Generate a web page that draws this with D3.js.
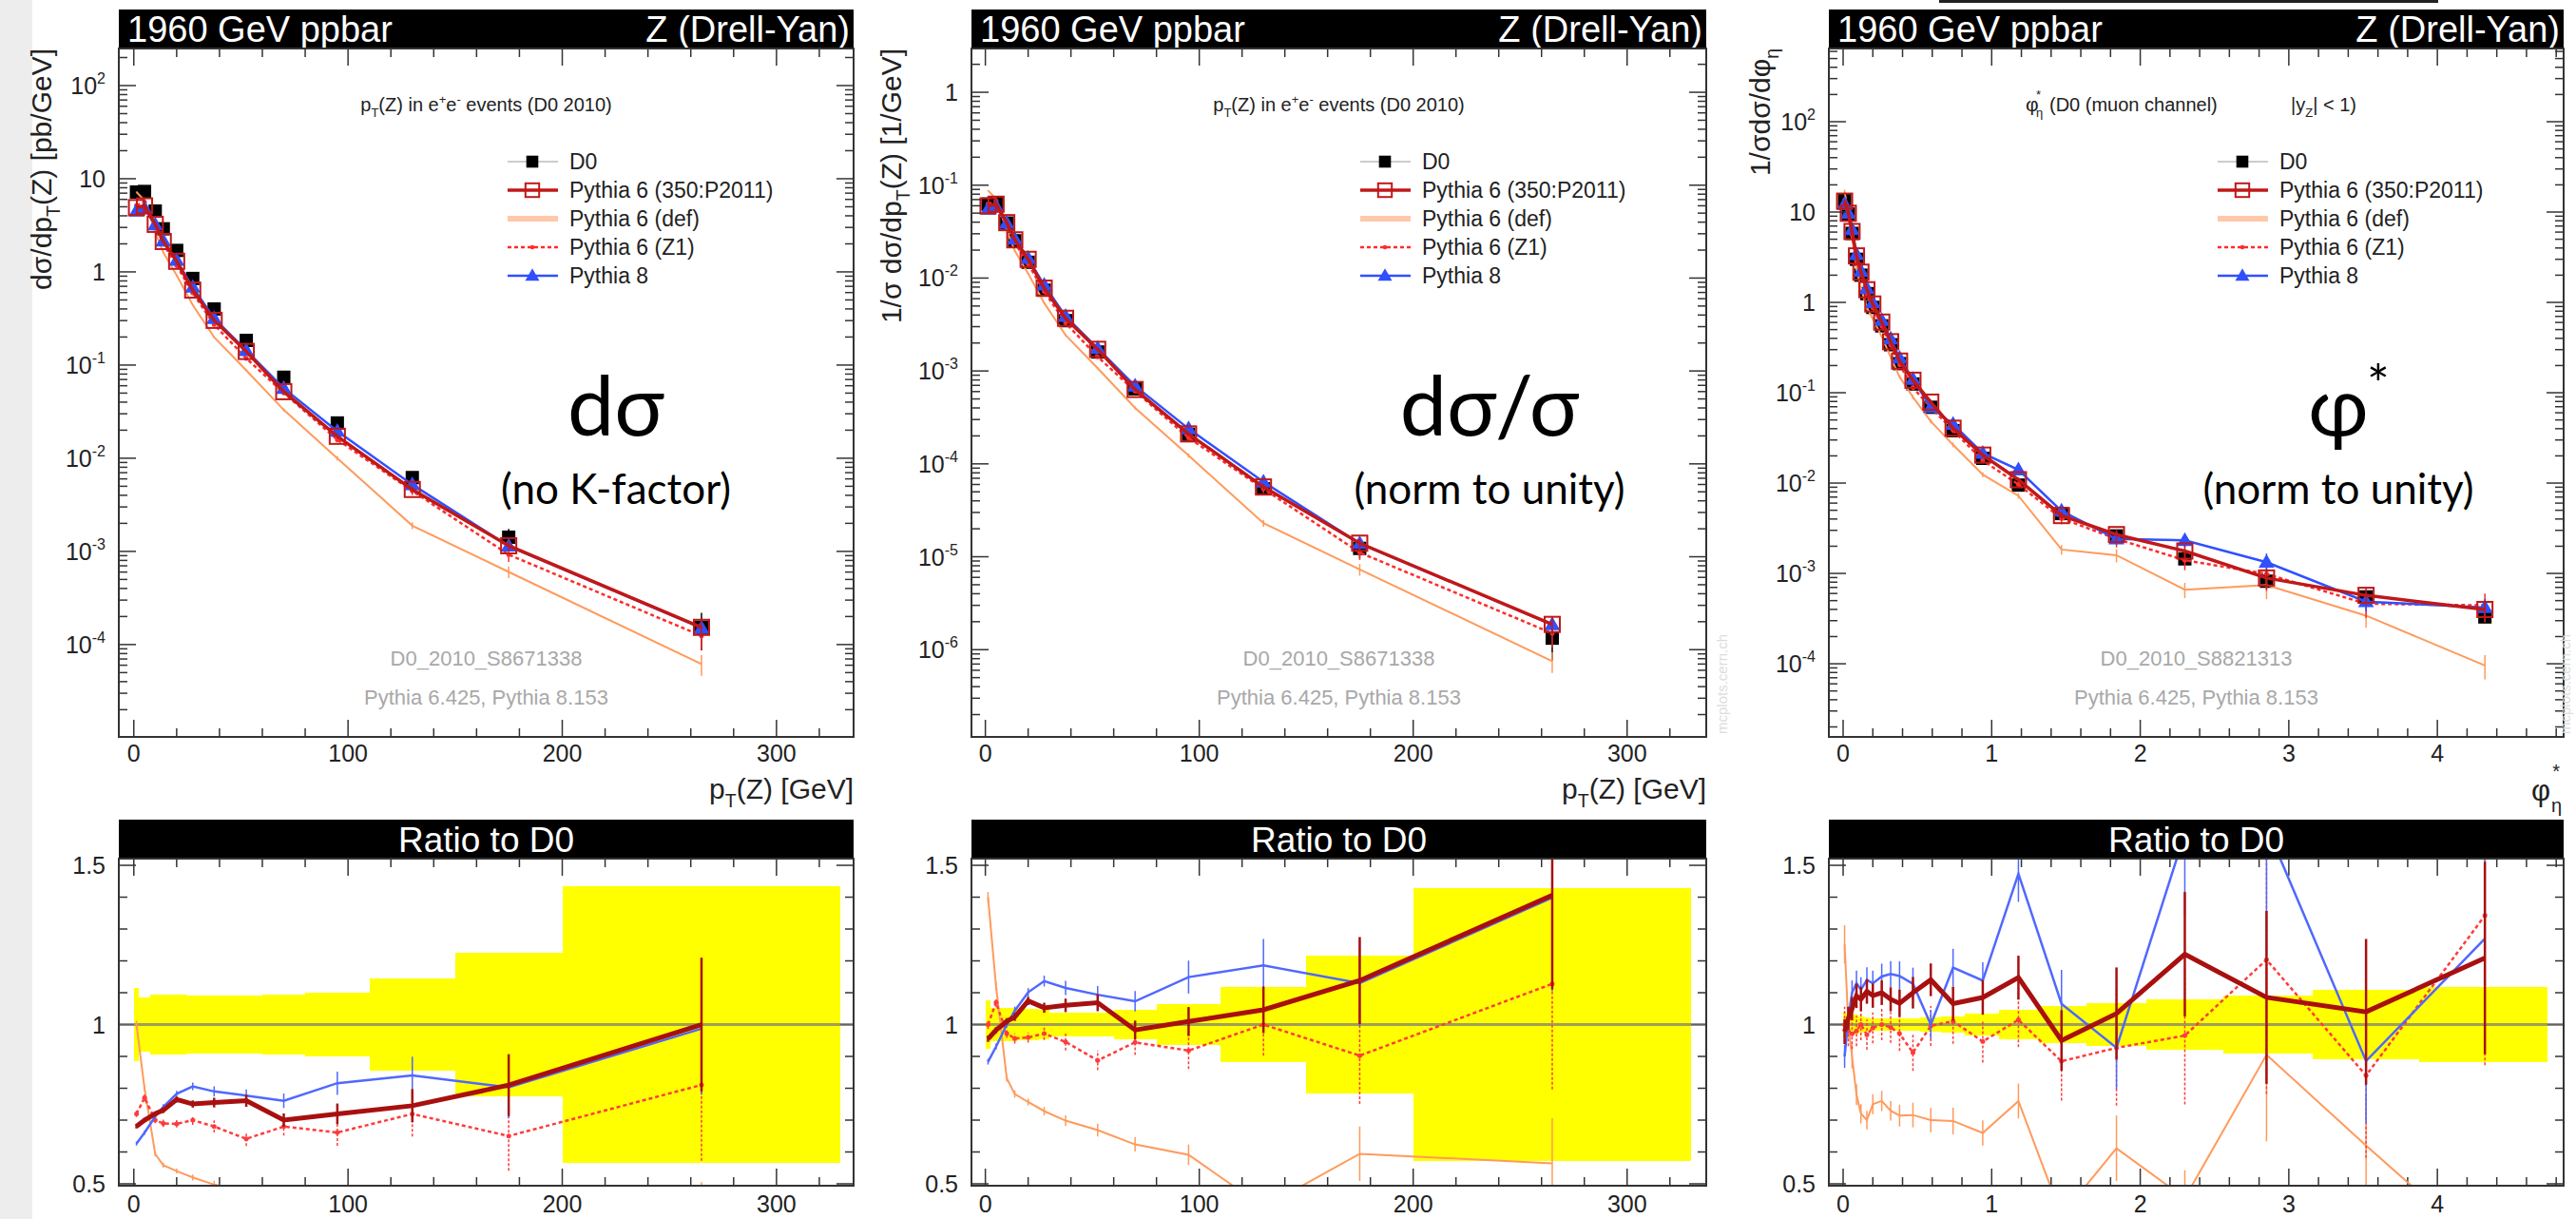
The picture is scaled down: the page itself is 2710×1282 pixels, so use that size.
<!DOCTYPE html>
<html lang="en">
<head>
<script src="https://d3js.org/d3.v7.min.js"></script>
<style>
  body { margin: 0; background: #fff; }
  svg text { font-family: "Liberation Sans", Arial, sans-serif; }
  .big { font-family: Lato, "Open Sans", sans-serif; }
</style>
</head>
<body>
<svg id="chart" width="2710" height="1282"></svg>
<script>
// ---- p_T(Z) binning (panels 1 and 2)
const ptX = [1.25, 5, 10, 13.75, 20, 27.5, 37.5, 52.5, 70, 95, 130, 175, 265];
const ptEdges = [0, 2.5, 7.5, 12.5, 15, 25, 30, 45, 60, 80, 110, 150, 200, 330];

// panel 1: d sigma / d pT [pb/GeV]
const sigD0 = [7.2, 7.3, 4.5, 2.9, 1.7, 0.85, 0.40, 0.184, 0.074, 0.0239, 0.0062, 0.00142, 0.000153];
const sigP2011 = [4.90, 5.11, 3.24, 2.12, 1.30, 0.638, 0.302, 0.140, 0.0518, 0.0172, 0.00462, 0.00115, 0.000153];
const sigDef = [7.2, 5.84, 2.67, 1.62, 0.918, 0.442, 0.199, 0.0878, 0.0330, 0.0100, 0.00189, 0.000602, 0.0000617];
const sigZ1 = [5.18, 5.62, 3.15, 2.00, 1.17, 0.595, 0.272, 0.118, 0.0503, 0.0158, 0.00446, 0.000923, 0.000124];
const sigP8 = [4.51, 4.82, 3.20, 2.15, 1.33, 0.685, 0.316, 0.143, 0.0563, 0.0195, 0.00521, 0.00114, 0.000151];
const sigBand = [0.115, 0.085, 0.095, 0.095, 0.095, 0.09, 0.09, 0.09, 0.093, 0.10, 0.145, 0.225, 0.435];
const sigMcErr = [0.01, 0.01, 0.01, 0.012, 0.012, 0.015, 0.02, 0.025, 0.03, 0.045, 0.07, 0.12, 0.21];

// panel 2: 1/sigma d sigma / d pT [1/GeV]
const normD0 = [0.0626, 0.0635, 0.0391, 0.0252, 0.0148, 0.0074, 0.00348, 0.0016, 0.000643, 0.000208, 5.39e-5, 1.23e-5, 1.33e-6];
const normP2011 = [0.0598, 0.0624, 0.0395, 0.0258, 0.0159, 0.00779, 0.00369, 0.00171, 0.000632, 0.00021, 5.64e-5, 1.40e-5, 1.87e-6];
const normDef = [0.0876, 0.0711, 0.0325, 0.0197, 0.0112, 0.00539, 0.00243, 0.00107, 0.000401, 0.000123, 2.30e-5, 7.31e-6, 7.50e-7];
const normZ1 = [0.0626, 0.0679, 0.0380, 0.0241, 0.0142, 0.00719, 0.00329, 0.00142, 0.000607, 0.000191, 5.39e-5, 1.11e-5, 1.50e-6];
const normP8 = [0.0553, 0.0591, 0.0391, 0.0263, 0.0163, 0.00841, 0.00388, 0.00175, 0.00069, 0.000239, 6.39e-5, 1.39e-5, 1.86e-6];
const normBand = [0.077, 0.052, 0.052, 0.052, 0.05, 0.045, 0.038, 0.036, 0.047, 0.065, 0.119, 0.216, 0.428];

// panel 3: phi*_eta
const phiX = [0.01, 0.035, 0.06, 0.09, 0.12, 0.16, 0.20, 0.26, 0.32, 0.38, 0.47, 0.59, 0.74, 0.94, 1.18, 1.47, 1.84, 2.30, 2.85, 3.52, 4.32];
const phiEdges = [0, 0.02, 0.05, 0.075, 0.105, 0.14, 0.18, 0.23, 0.29, 0.35, 0.42, 0.52, 0.66, 0.82, 1.05, 1.32, 1.64, 2.04, 2.56, 3.16, 3.88, 4.74];
const phiD0 = [13.5, 9.5, 5.8, 3.0, 2.0, 1.25, 0.88, 0.55, 0.34, 0.21, 0.125, 0.069, 0.038, 0.0188, 0.0095, 0.0046, 0.0026, 0.00145, 0.00082, 0.00055, 0.00033];
const phiP2011 = [13.2, 9.69, 6.09, 3.27, 2.16, 1.38, 0.96, 0.605, 0.367, 0.224, 0.1375, 0.0787, 0.0405, 0.0204, 0.0109, 0.00437, 0.00269, 0.00177, 0.00089, 0.000572, 0.000399];
const phiDef = [16.9, 9.5, 5.22, 2.34, 1.44, 0.875, 0.66, 0.418, 0.248, 0.150, 0.0895, 0.0483, 0.0265, 0.0124, 0.00722, 0.00184, 0.00159, 0.00066, 0.000742, 0.000341, 0.0000957];
const phiZ1 = [13.5, 9.31, 5.63, 2.94, 2.0, 1.21, 0.871, 0.55, 0.337, 0.204, 0.114, 0.0687, 0.0384, 0.0178, 0.00964, 0.00407, 0.00241, 0.0014, 0.000987, 0.000462, 0.000443];
const phiP8 = [12.15, 9.69, 6.38, 3.39, 2.22, 1.425, 0.994, 0.633, 0.394, 0.242, 0.141, 0.069, 0.0448, 0.0214, 0.0140, 0.0049, 0.00241, 0.00232, 0.00133, 0.000487, 0.000419];
const phiBand = [0.04, 0.035, 0.03, 0.03, 0.025, 0.022, 0.02, 0.02, 0.02, 0.02, 0.02, 0.022, 0.025, 0.033, 0.047, 0.058, 0.067, 0.08, 0.09, 0.11, 0.118];
const phiMcErr = [0.04, 0.035, 0.035, 0.035, 0.035, 0.035, 0.035, 0.035, 0.035, 0.04, 0.045, 0.045, 0.05, 0.05, 0.06, 0.1, 0.14, 0.16, 0.25, 0.22, 0.25];

const legendNames = ["D0", "Pythia 6 (350:P2011)", "Pythia 6 (def)", "Pythia 6 (Z1)", "Pythia 8"];

const svg = d3.select("svg#chart");
const defs = svg.append("defs");

const TOP = { y0: 51, y1: 775 };
const RAT = { y0: 903, y1: 1247 };
const ratioDom = [0.494, 1.521];

// MC styles (drawing order: def, z1, p8, p2011)
const styles = {
  def:   { color: "#ff9a5c", rcolor: "#ff9a5c", width: 2, rwidth: 2, dash: null, marker: null, errScale: 1.2 },
  z1:    { color: "#ff2b2b", rcolor: "#ff3b3b", width: 2.5, rwidth: 2.5, dash: "4,3", marker: "dot", errScale: 1.4 },
  p8:    { color: "#3050ff", rcolor: "#5068ff", width: 2.5, rwidth: 2.5, dash: null, marker: "tri", errScale: 1 },
  p2011: { color: "#c01818", rcolor: "#a81010", width: 3.5, rwidth: 5, dash: null, marker: "sq", errScale: 1 }
};
const order = ["def", "z1", "p8", "p2011"];

// background texture strip at the far left
svg.append("rect").attr("x", 0).attr("y", 0).attr("width", 34).attr("height", 1282).attr("fill", "#ededed");
svg.append("line").attr("x1", 2040).attr("x2", 2565).attr("y1", 1.5).attr("y2", 1.5)
  .attr("stroke", "#222").attr("stroke-width", 3);

function richText(g, x, y, size, parts) {
  const t = g.append("text").attr("x", x).attr("y", y).attr("font-size", size);
  let shift = 0;
  parts.forEach(p => {
    const target = p.sub ? size * 0.3 : p.sup ? -size * 0.42 : 0;
    const ts = t.append("tspan").text(p.t).attr("dy", target - shift);
    if (p.sub || p.sup) ts.attr("font-size", size * 0.65);
    shift = target;
  });
  return t;
}

function marker(g, kind, cx, cy, color, scale) {
  const s = scale || 1;
  if (kind === "sq") {
    g.append("rect").attr("x", cx - 8 * s).attr("y", cy - 8 * s).attr("width", 16 * s).attr("height", 16 * s)
      .attr("fill", "none").attr("stroke", color).attr("stroke-width", 2);
  } else if (kind === "d0") {
    g.append("rect").attr("x", cx - 7 * s).attr("y", cy - 7 * s).attr("width", 14 * s).attr("height", 14 * s).attr("fill", "#000");
  } else if (kind === "tri") {
    g.append("path").attr("d", d3.symbol(d3.symbolTriangle, 120 * s * s)()).attr("transform", `translate(${cx},${cy + 1})`).attr("fill", color);
  } else if (kind === "dot") {
    g.append("circle").attr("cx", cx).attr("cy", cy).attr("r", 2.5 * s).attr("fill", color);
  }
}

function logLabel(g, x, y, v) {
  const e = Math.round(Math.log10(v));
  const t = g.append("text").attr("x", x).attr("y", y).attr("text-anchor", "end").attr("font-size", 25).attr("fill", "#222");
  if (e === 0) t.text("1");
  else if (e === 1) t.text("10");
  else {
    t.append("tspan").text("10");
    t.append("tspan").text(e).attr("dy", -11).attr("font-size", 16);
  }
}

const panels = [
  {
    x0: 125, x1: 898, xDom: [-7, 336], xMajor: [0, 100, 200, 300], xMinor: 20, yDom: [1.02e-5, 250],
    xs: ptX, edges: ptEdges, d0: sigD0, band: sigBand, err: sigMcErr,
    mc: { def: sigDef, z1: sigZ1, p2011: sigP2011, p8: sigP8 },
    yTitle: [{ t: "dσ/dp" }, { t: "T", sub: true }, { t: "(Z) [pb/GeV]" }], yTitleX: 54,
    title: "pt", tag: "D0_2010_S8671338", big: "dσ", small: "(no K-factor)", bigX: 648, stampDx: null
  },
  {
    x0: 1022, x1: 1795, xDom: [-6.5, 337], xMajor: [0, 100, 200, 300], xMinor: 20, yDom: [1.15e-7, 2.96],
    xs: ptX, edges: ptEdges, d0: normD0, band: normBand, err: sigMcErr,
    mc: { def: normDef, z1: normZ1, p2011: normP2011, p8: normP8 },
    yTitle: [{ t: "1/σ  dσ/dp" }, { t: "T", sub: true }, { t: "(Z) [1/GeV]" }], yTitleX: 948,
    title: "pt", tag: "D0_2010_S8671338", big: "dσ/σ", small: "(norm to unity)", bigX: 1567, stampDx: 22
  },
  {
    x0: 1924, x1: 2697, xDom: [-0.096, 4.85], xMajor: [0, 1, 2, 3, 4], xMinor: 0.2, yDom: [1.55e-5, 646],
    xs: phiX, edges: phiEdges, d0: phiD0, band: phiBand, err: phiMcErr,
    mc: { def: phiDef, z1: phiZ1, p2011: phiP2011, p8: phiP8 },
    yTitle: [{ t: "1/σdσ/dφ" }, { t: "η", sub: true }], yTitleX: 1862,
    title: "phi", tag: "D0_2010_S8821313", big: "φ", small: "(norm to unity)", bigX: 2460, stampDx: 7
  }
];

panels.forEach((p, i) => {
  const g = svg.append("g");
  const w = p.x1 - p.x0;
  const x = d3.scaleLinear().domain(p.xDom).range([p.x0, p.x1]);
  const y = d3.scaleLog().domain(p.yDom).range([TOP.y1, TOP.y0]);
  const yr = d3.scaleLinear().domain(ratioDom).range([RAT.y1, RAT.y0]);

  defs.append("clipPath").attr("id", "ct" + i).append("rect")
    .attr("x", p.x0).attr("y", TOP.y0).attr("width", w).attr("height", TOP.y1 - TOP.y0);
  defs.append("clipPath").attr("id", "cr" + i).append("rect")
    .attr("x", p.x0).attr("y", RAT.y0).attr("width", w).attr("height", RAT.y1 - RAT.y0);

  // headers
  g.append("rect").attr("x", p.x0).attr("y", 10).attr("width", w).attr("height", TOP.y0 - 10).attr("fill", "#000");
  g.append("text").attr("x", p.x0 + 9).attr("y", 44).attr("font-size", 38).attr("fill", "#fff").text("1960 GeV ppbar");
  g.append("text").attr("x", p.x1 - 4).attr("y", 44).attr("font-size", 38).attr("fill", "#fff").attr("text-anchor", "end").text("Z (Drell-Yan)");
  g.append("rect").attr("x", p.x0).attr("y", 862).attr("width", w).attr("height", RAT.y0 - 862).attr("fill", "#000");
  g.append("text").attr("x", (p.x0 + p.x1) / 2).attr("y", 896).attr("font-size", 37).attr("fill", "#fff").attr("text-anchor", "middle").text("Ratio to D0");

  // ---------- top plot
  const top = g.append("g").attr("clip-path", `url(#ct${i})`);
  // D0 points
  p.d0.forEach((v, j) => {
    top.append("line").attr("x1", x(p.xs[j])).attr("x2", x(p.xs[j]))
      .attr("y1", y(v * (1 - p.band[j]))).attr("y2", y(v * (1 + p.band[j]))).attr("stroke", "#000").attr("stroke-width", 1.5);
    marker(top, "d0", x(p.xs[j]), y(v), "#000");
  });
  order.forEach(k => {
    const s = styles[k], vals = p.mc[k];
    const line = d3.line().x((d, j) => x(p.xs[j])).y(d => y(d));
    top.append("path").datum(vals).attr("d", line).attr("fill", "none")
      .attr("stroke", s.color).attr("stroke-width", s.width).attr("stroke-dasharray", s.dash);
    vals.forEach((v, j) => {
      const e = p.err[j] * s.errScale;
      top.append("line").attr("x1", x(p.xs[j])).attr("x2", x(p.xs[j]))
        .attr("y1", y(v * (1 - e))).attr("y2", y(v * (1 + e))).attr("stroke", s.color).attr("stroke-width", 1.5);
      if (s.marker) marker(top, s.marker, x(p.xs[j]), y(v), s.color);
    });
  });

  // top frame ticks
  const ax = g.append("g").attr("stroke", "#333").attr("stroke-width", 1.5);
  const e0 = Math.floor(Math.log10(p.yDom[0])), e1 = Math.ceil(Math.log10(p.yDom[1]));
  for (let e = e0; e <= e1; e++) {
    for (let m = 1; m <= 9; m++) {
      const v = m * Math.pow(10, e);
      if (v < p.yDom[0] || v > p.yDom[1]) continue;
      const len = m === 1 ? 18 : 9;
      ax.append("line").attr("x1", p.x0).attr("x2", p.x0 + len).attr("y1", y(v)).attr("y2", y(v));
      ax.append("line").attr("x1", p.x1).attr("x2", p.x1 - len).attr("y1", y(v)).attr("y2", y(v));
      if (m === 1) logLabel(g, p.x0 - 14, y(v) + 9, v);
    }
  }
  const xMinor = d3.range(0, p.xDom[1], p.xMinor);
  xMinor.forEach(v => {
    const major = p.xMajor.some(M => Math.abs(M - v) < 1e-6);
    const len = major ? 18 : 9;
    [[TOP.y1, -1], [TOP.y0, 1], [RAT.y1, -1], [RAT.y0, 1]].forEach(([yy, dir]) => {
      ax.append("line").attr("x1", x(v)).attr("x2", x(v)).attr("y1", yy).attr("y2", yy + dir * len);
    });
  });
  p.xMajor.forEach(v => {
    g.append("text").attr("x", x(v)).attr("y", 801).attr("text-anchor", "middle").attr("font-size", 25).attr("fill", "#222").text(v);
    g.append("text").attr("x", x(v)).attr("y", 1275).attr("text-anchor", "middle").attr("font-size", 25).attr("fill", "#222").text(v);
  });
  g.append("rect").attr("x", p.x0).attr("y", TOP.y0).attr("width", w).attr("height", TOP.y1 - TOP.y0)
    .attr("fill", "none").attr("stroke", "#333").attr("stroke-width", 2);

  // axis titles
  richText(g, 0, 0, 30, p.yTitle).attr("text-anchor", "end").attr("fill", "#222")
    .attr("transform", `translate(${p.yTitleX},${TOP.y0}) rotate(-90)`);
  if (p.title === "pt") {
    richText(g, p.x1, 840, 30, [{ t: "p" }, { t: "T", sub: true }, { t: "(Z) [GeV]" }]).attr("text-anchor", "end").attr("fill", "#222");
    richText(g, (p.x0 + p.x1) / 2, 117, 20, [{ t: "p" }, { t: "T", sub: true }, { t: "(Z) in e" }, { t: "+", sup: true }, { t: "e" }, { t: "-", sup: true }, { t: " events (D0 2010)" }])
      .attr("text-anchor", "middle").attr("fill", "#222");
  } else {
    g.append("text").attr("x", p.x1 - 14).attr("y", 842).attr("text-anchor", "end").attr("font-size", 31).attr("fill", "#222").text("φ");
    g.append("text").attr("x", p.x1 - 4).attr("y", 818).attr("text-anchor", "end").attr("font-size", 20).attr("fill", "#222").text("*");
    g.append("text").attr("x", p.x1 - 2).attr("y", 854).attr("text-anchor", "end").attr("font-size", 20).attr("fill", "#222").text("η");
    g.append("text").attr("x", p.x0 + 207).attr("y", 117).attr("font-size", 21).attr("fill", "#222").text("φ");
    g.append("text").attr("x", p.x0 + 218).attr("y", 104).attr("font-size", 13).attr("fill", "#222").text("*");
    g.append("text").attr("x", p.x0 + 218).attr("y", 123).attr("font-size", 13).attr("fill", "#222").text("η");
    g.append("text").attr("x", p.x0 + 232).attr("y", 117).attr("font-size", 20).attr("fill", "#222").text("(D0 (muon channel)");
    richText(g, p.x0 + 486, 117, 20, [{ t: "|y" }, { t: "Z", sub: true }, { t: "| < 1)" }]).attr("fill", "#222");
  }

  // stamps
  const cx = (p.x0 + p.x1) / 2;
  g.append("text").attr("x", cx).attr("y", 700).attr("text-anchor", "middle").attr("font-size", 22).attr("fill", "#a8a8a8").text(p.tag);
  g.append("text").attr("x", cx).attr("y", 741).attr("text-anchor", "middle").attr("font-size", 22).attr("fill", "#a8a8a8").text("Pythia 6.425, Pythia 8.153");
  if (p.stampDx !== null) {
    g.append("text").attr("transform", `translate(${p.x1 + p.stampDx},772) rotate(-90)`).attr("font-size", 15).attr("fill", "#dcdcdc").text("mcplots.cern.ch");
  }

  // legend
  const lg = g.append("g");
  legendNames.forEach((name, j) => {
    const ly = 170 + j * 30;
    const lx0 = p.x0 + 409, lx1 = p.x0 + 462, lmx = p.x0 + 435;
    if (j === 0) {
      lg.append("line").attr("x1", lx0).attr("x2", lx1).attr("y1", ly).attr("y2", ly).attr("stroke", "#bbb").attr("stroke-width", 1.5);
      marker(lg, "d0", lmx, ly, "#000", 0.9);
    } else {
      const k = ["p2011", "def", "z1", "p8"][j - 1];
      const s = styles[k];
      lg.append("line").attr("x1", lx0).attr("x2", lx1).attr("y1", ly).attr("y2", ly)
        .attr("stroke", k === "def" ? "#ffc8a8" : s.color).attr("stroke-width", k === "def" ? 6 : s.width)
        .attr("stroke-dasharray", s.dash);
      if (s.marker) marker(lg, s.marker, lmx, ly, s.color, 0.9);
    }
    lg.append("text").attr("x", p.x0 + 474).attr("y", ly + 8).attr("font-size", 23).attr("fill", "#222").text(name);
  });

  // big annotations
  if (p.big === "φ") {
    g.append("text").attr("class", "big").attr("x", p.bigX).attr("y", 458).attr("text-anchor", "middle").attr("font-size", 86).text("φ");
    g.append("text").attr("class", "big").attr("x", p.bigX + 42).attr("y", 424).attr("text-anchor", "middle").attr("font-size", 56).text("*");
  } else {
    g.append("text").attr("class", "big").attr("x", p.bigX).attr("y", 458).attr("text-anchor", "middle").attr("font-size", 88).text(p.big);
  }
  g.append("text").attr("class", "big").attr("x", p.bigX).attr("y", 530).attr("text-anchor", "middle").attr("font-size", 44).text(p.small);

  // ---------- ratio plot
  const rat = g.append("g").attr("clip-path", `url(#cr${i})`);
  p.band.forEach((b, j) => {
    rat.append("rect").attr("x", x(p.edges[j])).attr("width", x(p.edges[j + 1]) - x(p.edges[j]))
      .attr("y", yr(1 + b)).attr("height", yr(1 - b) - yr(1 + b)).attr("fill", "#ffff00").attr("shape-rendering", "crispEdges");
  });
  rat.append("line").attr("x1", p.x0).attr("x2", p.x1).attr("y1", yr(1)).attr("y2", yr(1))
    .attr("stroke", "#777").attr("stroke-opacity", 0.7).attr("stroke-width", 3);
  order.forEach(k => {
    const s = styles[k];
    const r = p.mc[k].map((v, j) => v / p.d0[j]);
    const line = d3.line().x((d, j) => x(p.xs[j])).y(d => yr(d));
    r.forEach((v, j) => {
      const e = p.err[j] * s.errScale * v;
      rat.append("line").attr("x1", x(p.xs[j])).attr("x2", x(p.xs[j]))
        .attr("y1", yr(v - e)).attr("y2", yr(v + e)).attr("stroke", s.rcolor).attr("stroke-width", k === "p2011" ? 2.5 : 1.5)
        .attr("stroke-dasharray", k === "z1" ? "3,2" : null);
      if (k === "z1") rat.append("circle").attr("cx", x(p.xs[j])).attr("cy", yr(v)).attr("r", 2.5).attr("fill", s.rcolor);
    });
    rat.append("path").datum(r).attr("d", line).attr("fill", "none")
      .attr("stroke", s.rcolor).attr("stroke-width", s.rwidth).attr("stroke-dasharray", s.dash);
  });
  // ratio y ticks
  d3.range(5, 16).forEach(t10 => {
    const v = t10 / 10;
    const major = t10 % 5 === 0;
    const len = major ? 18 : 9;
    ax.append("line").attr("x1", p.x0).attr("x2", p.x0 + len).attr("y1", yr(v)).attr("y2", yr(v));
    ax.append("line").attr("x1", p.x1).attr("x2", p.x1 - len).attr("y1", yr(v)).attr("y2", yr(v));
  });
  [[1.5, "1.5"], [1, "1"], [0.5, "0.5"]].forEach(([v, lab]) => {
    g.append("text").attr("x", p.x0 - 14).attr("y", yr(v) + 9).attr("text-anchor", "end").attr("font-size", 25).attr("fill", "#222").text(lab);
  });
  g.append("rect").attr("x", p.x0).attr("y", RAT.y0).attr("width", w).attr("height", RAT.y1 - RAT.y0)
    .attr("fill", "none").attr("stroke", "#333").attr("stroke-width", 2);
});
</script>
</body>
</html>
